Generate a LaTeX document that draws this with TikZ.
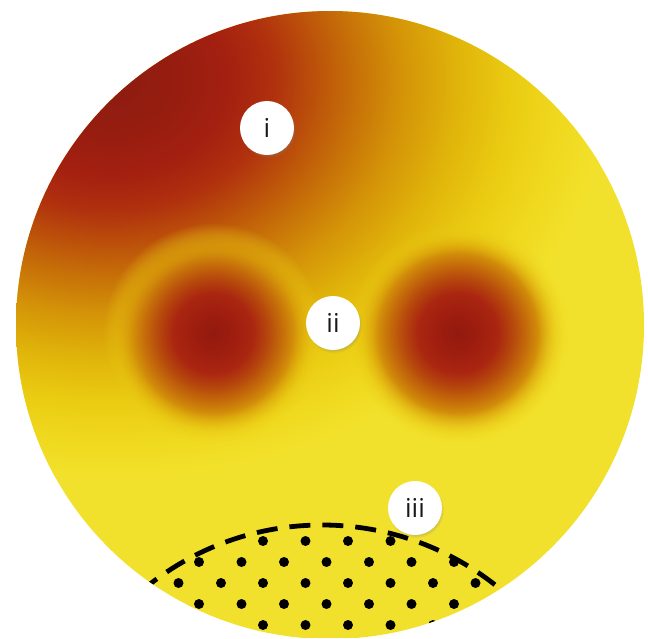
\documentclass[tikz,border=0pt]{standalone}
\usepackage{fontspec}
\setmainfont{Open Sans}
\usetikzlibrary{shadows,fadings}

% palette
\definecolor{base}{HTML}{F2E12C}
\definecolor{wA}{HTML}{8C1C10}
\definecolor{wB}{HTML}{961D10}
\definecolor{wC}{HTML}{A42010}
\definecolor{wD}{HTML}{B0300E}
\definecolor{wE}{HTML}{BC520A}
\definecolor{wF}{HTML}{C87408}
\definecolor{wG}{HTML}{D49408}
\definecolor{wH}{HTML}{E0B40A}
\definecolor{wI}{HTML}{EACC12}
\definecolor{wJ}{HTML}{F0DA20}
\definecolor{bA}{HTML}{921A0E}
\definecolor{bB}{HTML}{9E1D0F}
\definecolor{bC}{HTML}{AA2610}
\definecolor{bD}{HTML}{B6480C}
\definecolor{bE}{HTML}{C6700A}
\definecolor{bF}{HTML}{D89C0A}
\definecolor{bG}{HTML}{E6C010}
\definecolor{bH}{HTML}{EED418}

% warm glow spreading from the upper left
\pgfdeclareradialshading{warmglow}{\pgfpointorigin}{%
  color(0bp)=(wA); color(3.26bp)=(wB); color(5.98bp)=(wC);
  color(8.15bp)=(wD); color(10.33bp)=(wE); color(12.5bp)=(wF);
  color(14.67bp)=(wG); color(17.39bp)=(wH); color(20.11bp)=(wI);
  color(22.83bp)=(wJ); color(25bp)=(base); color(50bp)=(base)}

% hot spot (radius 110)
\pgfdeclareradialshading{hotspot}{\pgfpointorigin}{%
  color(0bp)=(bA); color(4.55bp)=(bB); color(9.1bp)=(bC);
  color(12.5bp)=(bD); color(15.9bp)=(bE); color(19.3bp)=(bF);
  color(22.3bp)=(bG); color(25bp)=(bH); color(50bp)=(bH)}

% soft rim of a hot spot (white = opaque, black = clear)
\pgfdeclareradialshading{rimmask}{\pgfpointorigin}{%
  color(0bp)=(white); color(18bp)=(white);
  color(25bp)=(black); color(50bp)=(black)}
\pgfdeclarefading{softrim}{\pgfuseshading{rimmask}}

\tikzset{
  lbl/.style={circle, fill=white, minimum size=54pt, inner sep=0pt,
    text=black!90, font=\fontsize{26}{26}\selectfont,
    circular drop shadow={shadow xshift=1pt, shadow yshift=-2pt,
      opacity=0.35, shadow scale=1.04}},
  dot/.style={fill=black},
  rim/.style={line width=4.8pt, dash pattern=on 21pt off 12pt}
}

\begin{document}
\begin{tikzpicture}[x=1pt,y=-1pt]
\useasboundingbox (0,0) rectangle (648,638);

\begin{scope}
  \clip (330,325) circle [radius=314];
  \fill[base] (0,0) rectangle (648,638);
  \shade[shading=warmglow] (110,80) ellipse [x radius=500, y radius=400];
  \shade[shading=hotspot, path fading=softrim] (213,333) circle [radius=110];
  \shade[shading=hotspot, path fading=softrim] (458,333) circle [radius=110];

  % dotted region
  \foreach \x in {263,305.5,348,390.5}
    \fill[dot] (\x,541) circle [radius=5];
  \foreach \x in {199,241.5,284,326.5,369,411.5,454}
    \fill[dot] (\x,562) circle [radius=5];
  \foreach \x in {178.5,221,263,305.5,348,390.5,433,475.5}
    \fill[dot] (\x,583) circle [radius=5];
  \foreach \x in {156.5,199,241.5,284,326.5,369,411.5,454,496.5}
    \fill[dot] (\x,604) circle [radius=5];
  \foreach \x in {220.5,263,305.5,348,390.5,433}
    \fill[dot] (\x,625) circle [radius=5];

  % dashed boundary
  \coordinate (rimc) at (322,805);
  \draw[rim] (rimc) circle [radius=280];
\end{scope}

\node[lbl] (li) at (267,128) {i};
\node[lbl] (lii) at (333,323) {ii};
\node[lbl] (liii) at (415,508) {iii};
\end{tikzpicture}
\end{document}
